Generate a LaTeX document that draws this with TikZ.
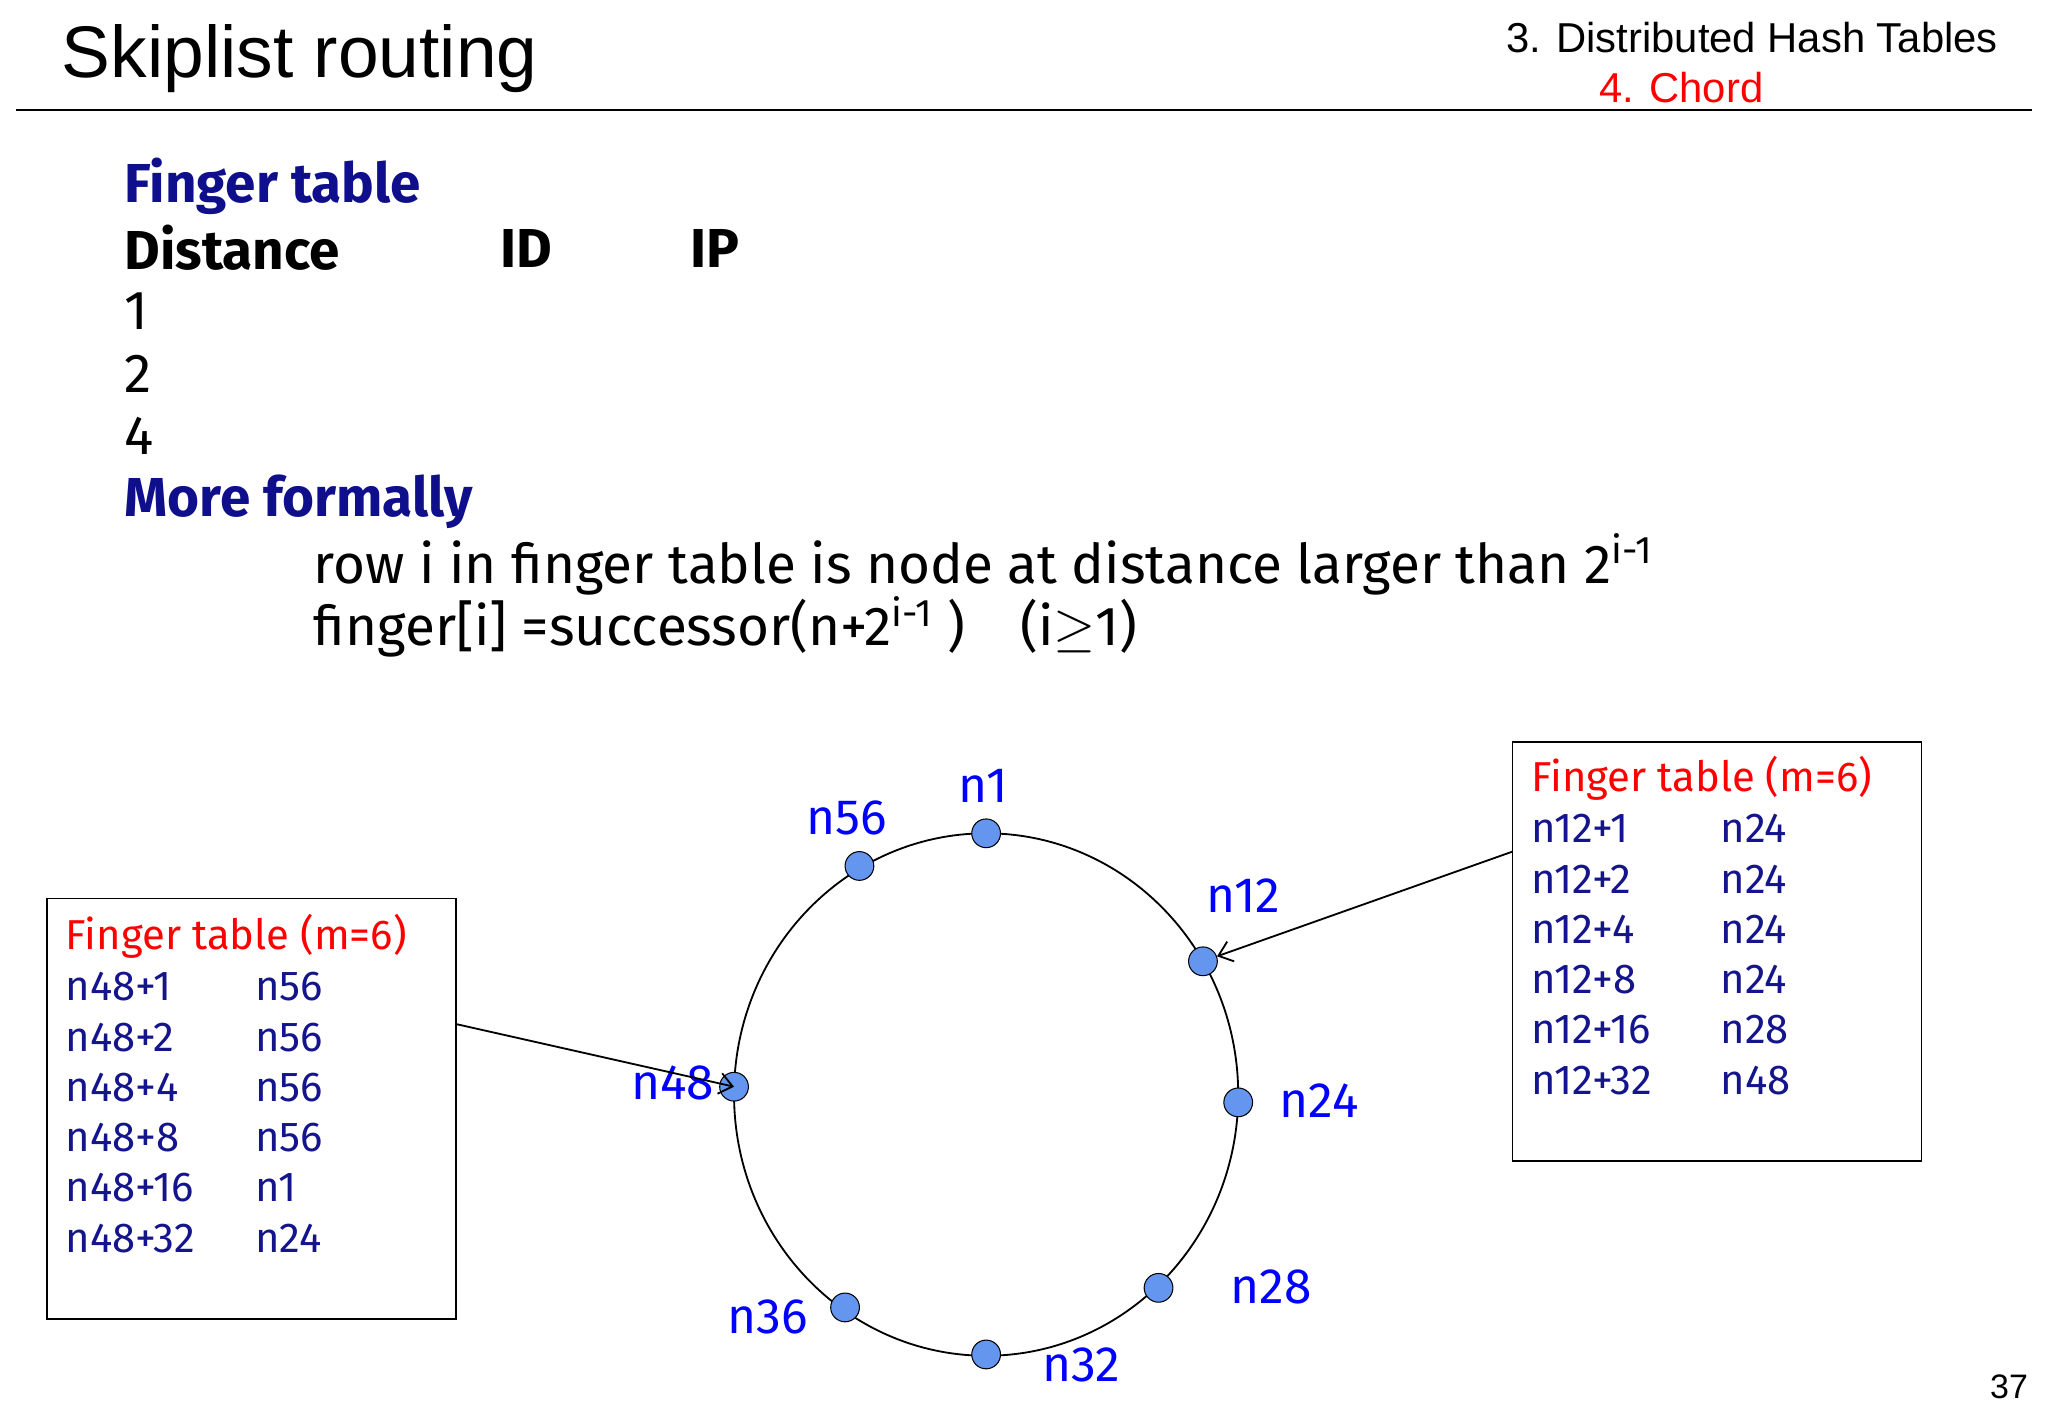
\documentclass[tikz,border=0pt]{standalone}
\usepackage{fontspec}
\usetikzlibrary{arrows.meta}
\setmainfont{Fira Sans}
\newfontfamily\hfont{Liberation Sans}
\begin{document}
\begin{tikzpicture}[x=0.5pt,y=-0.5pt,
  pt/.style={circle,draw=black,fill=nodeblue,minimum size=11pt,inner sep=0pt},
  lab/.style={text=blue,font=\fontsize{19}{22}\selectfont},
  tab/.style={anchor=west,inner sep=0pt,text=navy,font=\fontsize{16}{19}\selectfont},
  tabh/.style={anchor=west,inner sep=0pt,text=red,font=\fontsize{16}{19}\selectfont},
  big/.style={anchor=west,inner sep=0pt,font=\fontsize{21}{25}\selectfont},
  box/.style={draw=black,line width=0.6pt},
  conn/.style={-{Straight Barb[length=5pt,width=8pt]},line width=0.7pt}]
\definecolor{nodeblue}{RGB}{100,150,240}
\definecolor{navy}{RGB}{20,20,140}
\definecolor{hblue}{RGB}{15,15,140}
\useasboundingbox (0,0) rectangle (1568,1086);
\fill[white] (0,0) rectangle (1568,1086);
% header
\node[anchor=west,inner sep=0pt,font=\hfont\fontsize{28}{32}\selectfont] (title) at (47,45) {Skiplist routing};
\node[anchor=east,inner sep=0pt,font=\hfont\fontsize{16}{19}\selectfont] (sec) at (1530,29) {3. Distributed Hash Tables};
\node[anchor=west,inner sep=0pt,text=red,font=\hfont\fontsize{16}{19}\selectfont] (sub) at (1224,67) {4. Chord};
\coordinate (hl) at (12,84); \coordinate (hr) at (1556,84);
\draw[line width=0.8pt] (hl) -- (hr);
\node[anchor=east,inner sep=0pt,font=\hfont\fontsize{13}{15}\selectfont] (pg) at (1553,1062) {37};
% top text
\node[big,text=hblue,font=\bfseries\fontsize{21}{25}\selectfont] (ft) at (95,143) {Finger table};
\node[big,font=\bfseries\fontsize{21}{25}\selectfont] (d) at (95,190) {Distance};
\node[big,font=\bfseries\fontsize{21}{25}\selectfont] (id) at (383,190) {ID};
\node[big,font=\bfseries\fontsize{21}{25}\selectfont] (ip) at (528,190) {IP};
\node[big] (r1) at (95,238) {1};
\node[big] (r2) at (95,286) {2};
\node[big] (r4) at (95,334) {4};
\node[big,text=hblue,font=\bfseries\fontsize{21}{25}\selectfont] (mf) at (95,384) {More formally};
\node[big] (f1) at (240,432) {row i in finger table is node at distance larger than 2\textsuperscript{i-1}};
\node[big] (f2) at (240,480) {finger[i] =successor(n+2\textsuperscript{i-1} )\quad(i$\geq$1)};
% ring
\coordinate (c) at (755,838);
\draw[line width=0.7pt] (c) ellipse [x radius=193, y radius=200];
\node[pt] (n1) at (755,638) {};
\node[pt] (n56) at (658,663) {};
\node[pt] (n12) at (921,736) {};
\node[pt] (n24) at (948,844) {};
\node[pt] (n28) at (887,986) {};
\node[pt] (n32) at (755,1037) {};
\node[pt] (n36) at (647,1001) {};
\node[pt] (n48) at (562,832) {};
\node[lab] at (753,602) {n1};
\node[lab] at (648,626) {n56};
\node[lab] at (952,686) {n12};
\node[lab] at (1010,843) {n24};
\node[lab] at (973,985) {n28};
\node[lab] at (828,1045) {n32};
\node[lab] at (588,1008) {n36};
\node[lab] at (515,829) {n48};
% left box
\draw[box] (36,688) rectangle (349,1010);
\coordinate (la) at (349,784);
\node[tabh] at (50,717) {Finger table (m=6)};
\foreach \a/\b [count=\i] in {n48+1/n56,n48+2/n56,n48+4/n56,n48+8/n56,n48+16/n1,n48+32/n24}{
  \node[tab] at (50,717+38.5*\i) {\a};
  \node[tab] at (195,717+38.5*\i) {\b};}
% right box
\draw[box] (1158,568) rectangle (1471,889);
\coordinate (ra) at (1158,652);
\node[tabh] at (1172,596) {Finger table (m=6)};
\foreach \a/\b [count=\i] in {n12+1/n24,n12+2/n24,n12+4/n24,n12+8/n24,n12+16/n28,n12+32/n48}{
  \node[tab] at (1172,596+38.5*\i) {\a};
  \node[tab] at (1317,596+38.5*\i) {\b};}
\draw[conn] (la) -- (n48.center);
\draw[conn] (ra) -- (n12);
\end{tikzpicture}
\end{document}
